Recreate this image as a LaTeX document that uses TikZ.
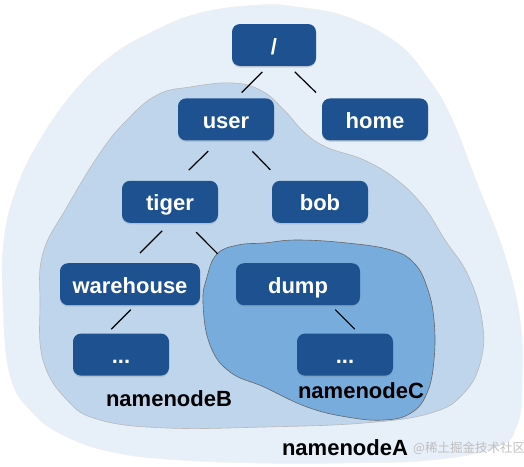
\documentclass[tikz,border=0pt]{standalone}
\usepackage{fontspec}
\setmainfont{Liberation Sans}
\newfontfamily\cjk{Noto Sans CJK SC}
\usepackage{tikz}
\usetikzlibrary{positioning, shadows}
\definecolor{dir-blue}{HTML}{1D5190}
\definecolor{ns-a}{HTML}{E7EFF8}
\definecolor{ns-b}{HTML}{BED5EC}
\definecolor{ns-c}{HTML}{78ACDC}

\tikzset{
	dir/.style={rectangle, rounded corners=8pt, fill=dir-blue, text=white,
		font=\fontsize{22}{26}\selectfont\bfseries, minimum width=96pt,
		minimum height=42pt, text height=18pt, text depth=0pt, inner sep=0pt,
		drop shadow={opacity=0.25, shadow xshift=0pt, shadow yshift=-1.5pt}},
	link/.style={-, line width=1.2pt, black},
	nslabel/.style={font=\fontsize{22}{26}\selectfont\bfseries, anchor=base, inner sep=0pt},
}

\begin{document}
\begin{tikzpicture}[x=1pt, y=-1pt, node distance=40pt]
							\useasboundingbox (0,0) rectangle (524,466);
							% namespaces
							\draw[draw=gray!12, fill=ns-a, line width=0.6pt] plot[smooth cycle, tension=0.7] coordinates {
								(260,5) (200,13) (150,33) (110,57) (73,93) (40,140) (17,187) (4,240) (3,300)
								(10,375) (33,413) (67,437) (117,453) (180,460) (260,463) (340,463) (431,460)
								(497,447) (517,425) (522,385) (520,320) (504,253) (477,183) (451,117) (427,77)
								(397,43) (347,17) (297,7)};
							\draw[draw=gray!55, fill=ns-b, line width=0.6pt] plot[smooth cycle, tension=0.7] coordinates {
								(157,95) (190,87) (233,83) (262,91) (284,110) (304,132) (326,147) (364,160)
								(397,180) (424,207) (445,240) (468,275) (482,320) (481,360) (464,393) (431,413)
								(364,423) (264,427) (167,428) (100,420) (67,400) (43,360) (40,303) (43,253)
								(67,207) (100,153) (127,120)};
							\draw[draw=gray!80!black, fill=ns-c, line width=0.6pt] plot[smooth cycle, tension=0.7] coordinates {
								(264,243) (297,240) (347,243) (391,250) (414,263) (427,287) (434,320) (434,360)
								(427,393) (411,413) (384,420) (347,417) (307,407) (264,387) (230,372) (210,345)
								(203,303) (207,277) (217,254) (238,245)};
							% directories
							\node[dir, minimum width=84pt] (root) at (274,45) {/};
							\node[dir, below=32pt of root, xshift=-48pt] (user) {user};
							\node[dir, minimum width=106pt, below=32pt of root, xshift=101pt] (home) {home};
							\node[dir, below=of user, xshift=-56pt] (tiger) {tiger};
							\node[dir, below=of user, xshift=94pt] (bob) {bob};
							\node[dir, minimum width=140pt, below=of tiger, xshift=-40pt] (warehouse) {warehouse};
							\node[dir, minimum width=124pt, below=of tiger, xshift=128pt] (dump) {dump};
							\node[dir, below=28pt of warehouse, xshift=-9pt] (dotsB) {...};
							\node[dir, below=28pt of dump, xshift=47pt] (dotsC) {...};
							\draw[link]
							([xshift=-6pt]root.south) edge[shorten <=8pt, shorten >=8pt] ([xshift=10pt]user.north)
							([xshift=15pt]root.south) edge[shorten <=8pt, shorten >=8pt] (home.north west)
							([xshift=-7pt]user.south) edge[shorten <=15pt, shorten >=15pt] ([xshift=8pt]tiger.north)
							([xshift=16pt]user.south) edge[shorten <=15pt, shorten >=15pt] ([xshift=9pt]bob.north west)
							(tiger.south) edge[shorten <=11pt, shorten >=14pt] (warehouse.north)
							([xshift=17pt]tiger.south) edge[shorten <=13pt, shorten >=13pt] ([xshift=-9pt]dump.north west)
							([xshift=5pt]warehouse.south) edge[shorten <=6pt, shorten >=6pt] ([xshift=-14pt]dotsB.north)
							([xshift=33pt]dump.south) edge[shorten <=6pt, shorten >=6pt] ([xshift=14pt]dotsC.north);
							% labels
							\node[nslabel] (nsB) at (169,406) {namenodeB};
							\node[nslabel] (nsC) at (361,398) {namenodeC};
							\node[nslabel] (nsA) at (345,455) {namenodeA};
							\node[anchor=base west, inner sep=0pt, text=gray!50, font=\cjk\fontsize{12.5}{14}\selectfont] (mark) at (413,452) {@稀土掘金技术社区};
						\end{tikzpicture}
\end{document}
